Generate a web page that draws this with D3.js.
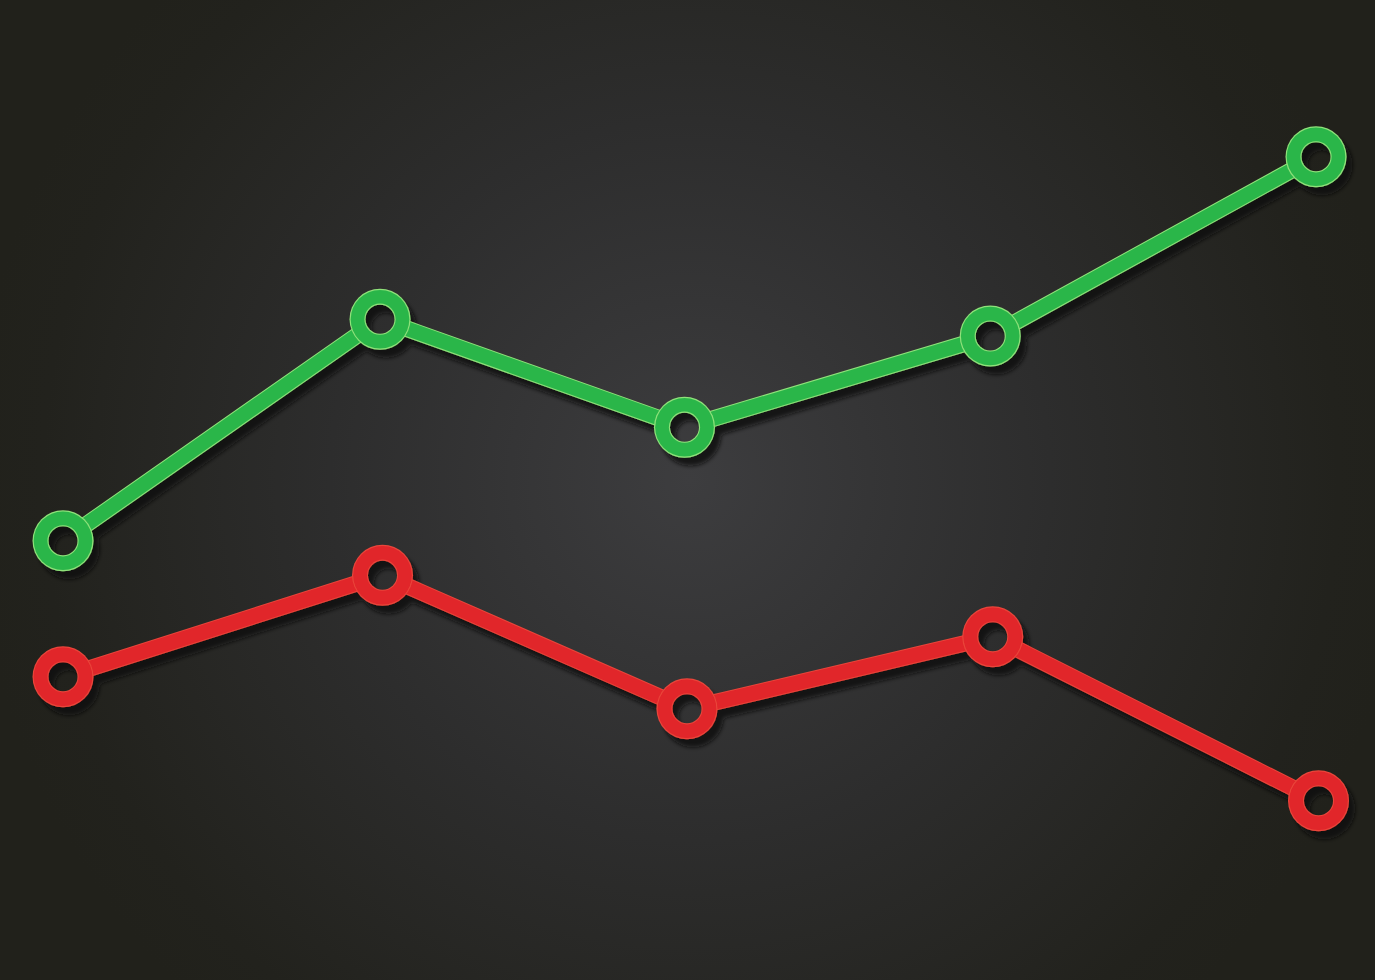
<!DOCTYPE html>
<html><head><meta charset="utf-8">
<script src="https://cdn.jsdelivr.net/npm/d3@7"></script>
<style>html,body{margin:0;padding:0;background:#22221c;}svg{display:block;}</style>
</head><body>
<script>
const categories = ["P1","P2","P3","P4","P5"];
const greenX = [0, 25.3, 49.6, 74.0, 100];
const greenValues = [44.9, 72.6, 59.1, 70.5, 92.9];
const redX = [0, 25.5, 49.8, 74.2, 100.2];
const redValues = [27.9, 40.6, 23.9, 32.9, 12.4];

const W = 1375, H = 980;
const svg = d3.select("body").append("svg").attr("width", W).attr("height", H);
const defs = svg.append("defs");

const rg = defs.append("radialGradient").attr("id","bg")
  .attr("gradientUnits","userSpaceOnUse").attr("cx",690).attr("cy",480).attr("r",720);
rg.append("stop").attr("offset","0").attr("stop-color","#3d3d3f");
rg.append("stop").attr("offset","0.5").attr("stop-color","#2d2d2d");
rg.append("stop").attr("offset","0.9").attr("stop-color","#22221d");
rg.append("stop").attr("offset","1").attr("stop-color","#21211b");

const f = defs.append("filter").attr("id","shadow").attr("x","-10%").attr("y","-10%").attr("width","120%").attr("height","130%");
f.append("feDropShadow").attr("dx",6).attr("dy",8).attr("stdDeviation",2)
  .attr("flood-color","#0a0a0a").attr("flood-opacity",0.85);

svg.append("rect").attr("width",W).attr("height",H).attr("fill","url(#bg)");

const x = d3.scaleLinear().domain([0,100]).range([63, 1316]);
const y = d3.scaleLinear().domain([0,100]).range([900,100]);

function series(xs, values, id, main, edge) {
  const pts = values.map((v,i)=>[x(xs[i]), y(v)]);
  const m = defs.append("mask").attr("id","m"+id).attr("maskUnits","userSpaceOnUse")
    .attr("x",0).attr("y",0).attr("width",W).attr("height",H);
  m.append("rect").attr("width",W).attr("height",H).attr("fill","#fff");
  m.selectAll("circle").data(pts).join("circle")
    .attr("cx",d=>d[0]).attr("cy",d=>d[1]).attr("r",14.5).attr("fill","#000");
  const outer = svg.append("g").attr("filter","url(#shadow)");
  const g = outer.append("g").attr("mask","url(#m"+id+")");
  const line = d3.line();
  g.append("path").attr("d",line(pts)).attr("fill","none").attr("stroke",edge)
    .attr("stroke-width",16.5).attr("stroke-linejoin","round");
  g.append("path").attr("d",line(pts)).attr("fill","none").attr("stroke",main)
    .attr("stroke-width",14.5).attr("stroke-linejoin","round");
  g.selectAll("circle.o").data(pts).join("circle").attr("class","o")
    .attr("cx",d=>d[0]).attr("cy",d=>d[1]).attr("r",30.5).attr("fill",edge);
  g.selectAll("circle.i").data(pts).join("circle").attr("class","i")
    .attr("cx",d=>d[0]).attr("cy",d=>d[1]).attr("r",29.3).attr("fill",main);
  g.selectAll("circle.h").data(pts).join("circle").attr("class","h")
    .attr("cx",d=>d[0]).attr("cy",d=>d[1]).attr("r",15.6).attr("fill",edge);
}
series(greenX, greenValues, "g", "#2cb64a", "#8fe27a");
series(redX, redValues, "r", "#e1252a", "#e9453a");
</script>
</body></html>
